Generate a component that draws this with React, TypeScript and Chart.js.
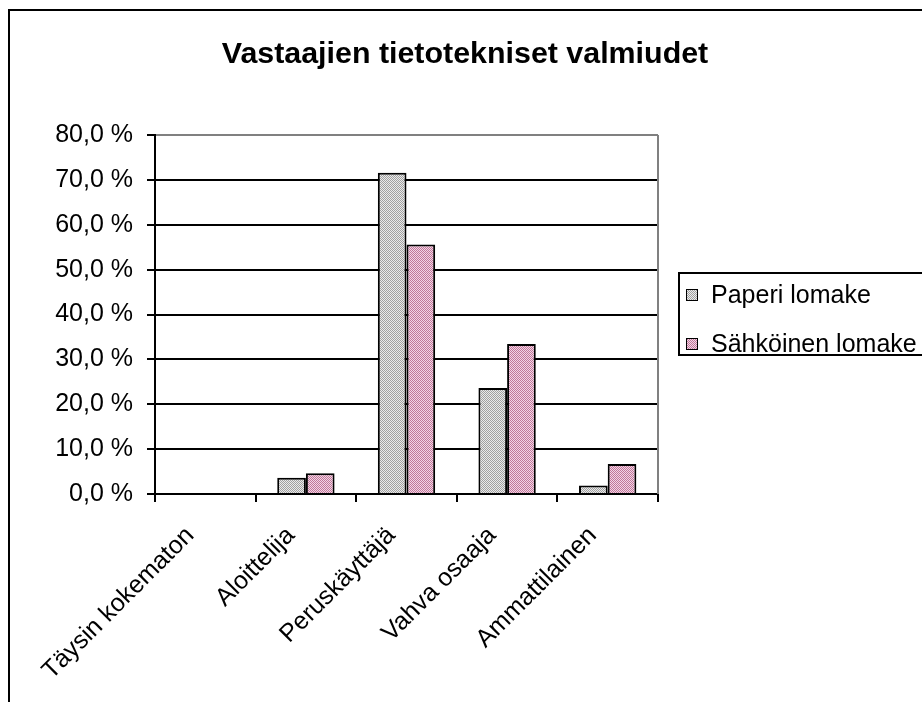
import React, { useEffect, useRef } from "react";
import { Chart, registerables } from "chart.js";

Chart.register(...registerables);

const chartTitle = "Vastaajien tietotekniset valmiudet";
const categories = ["Täysin kokematon", "Aloittelija", "Peruskäyttäjä", "Vahva osaaja", "Ammattilainen"];
const seriesNames = ["Paperi lomake", "Sähköinen lomake"];
const paperiValues = [0, 3.6, 71.6, 23.6, 1.9];
const sahkoinenValues = [0, 4.6, 55.6, 33.4, 6.7];
const yMin = 0;
const yMax = 80;
const yStep = 10;

const FONT = '"Liberation Sans", Arial, sans-serif';

function makePattern(c1: string, c2: string): CanvasPattern | string {
  const pc = document.createElement("canvas");
  pc.width = 2;
  pc.height = 2;
  const g = pc.getContext("2d");
  if (!g) return c1;
  g.fillStyle = c1;
  g.fillRect(0, 0, 2, 2);
  g.fillStyle = c2;
  g.fillRect(0, 0, 1, 1);
  g.fillRect(1, 1, 1, 1);
  const ctx = document.createElement("canvas").getContext("2d");
  const p = ctx ? ctx.createPattern(pc, "repeat") : null;
  return p || c1;
}

export default function App() {
  const ref = useRef<HTMLCanvasElement | null>(null);

  useEffect(() => {
    if (!ref.current) return;
    const grayPat = makePattern("#eaeaea", "#a0a0a0");
    const pinkPat = makePattern("#f2d4e6", "#c07898");
    const fills = [grayPat, pinkPat];

    const framePlugin = {
      id: "frame",
      beforeDraw(chart: any) {
        const c = chart.ctx;
        c.save();
        c.fillStyle = "#ffffff";
        c.fillRect(0, 0, chart.width, chart.height);
        c.restore();
      },
      afterDraw(chart: any) {
        const c = chart.ctx;
        const a = chart.chartArea;
        c.save();
        // outer chart border
        c.strokeStyle = "#000";
        c.lineWidth = 2;
        c.beginPath();
        c.moveTo(9, 710);
        c.lineTo(9, 10);
        c.lineTo(930, 10);
        c.stroke();
        // plot area right border
        c.strokeStyle = "#808080";
        c.lineWidth = 2;
        c.beginPath();
        c.moveTo(a.right, a.top);
        c.lineTo(a.right, a.bottom);
        c.stroke();
        // title
        c.fillStyle = "#000";
        c.font = `bold 30.4px ${FONT}`;
        c.textAlign = "center";
        c.textBaseline = "alphabetic";
        c.fillText(chartTitle, 465, 63);
        // legend
        c.strokeStyle = "#000";
        c.lineWidth = 2;
        c.strokeRect(679, 273, 300, 82);
        c.font = `25px ${FONT}`;
        c.textAlign = "left";
        c.textBaseline = "middle";
        const ys = [295, 344];
        chart.data.datasets.forEach((ds: any, i: number) => {
          c.fillStyle = fills[i];
          c.fillRect(686, ys[i] - 6, 12, 12);
          c.lineWidth = 1;
          c.strokeStyle = "#000";
          c.strokeRect(686.5, ys[i] - 5.5, 11, 11);
          c.fillStyle = "#000";
          c.fillText(ds.label, 711, ys[i] + 1);
        });
        c.restore();
      },
    };

    const chart = new Chart(ref.current, {
      type: "bar",
      data: {
        labels: categories,
        datasets: [
          {
            label: seriesNames[0],
            data: paperiValues,
            backgroundColor: grayPat as any,
            borderColor: "#000",
            borderWidth: 2,
            categoryPercentage: 0.57,
            barPercentage: 1,
          },
          {
            label: seriesNames[1],
            data: sahkoinenValues,
            backgroundColor: pinkPat as any,
            borderColor: "#000",
            borderWidth: 2,
            categoryPercentage: 0.57,
            barPercentage: 1,
          },
        ],
      },
      options: {
        animation: false,
        responsive: false,
        layout: { padding: { left: 0, top: 135, right: 264, bottom: 0 } },
        plugins: {
          legend: { display: false },
          title: { display: false },
          tooltip: { enabled: false },
        },
        scales: {
          x: {
            afterFit(scale: any) {
              scale.height = 208;
              scale.paddingLeft = 0;
              scale.paddingRight = 0;
            },
            grid: {
              drawOnChartArea: false,
              drawTicks: true,
              tickLength: 8,
              color: "#000",
              lineWidth: 2,
              offset: true,
            },
            border: { color: "#000", width: 2 },
            ticks: {
              color: "#000",
              font: { family: FONT, size: 25 },
              maxRotation: 45,
              minRotation: 45,
              autoSkip: false,
              padding: 19,
              labelOffset: -15,
            },
          },
          y: {
            min: yMin,
            max: yMax,
            afterFit(scale: any) {
              scale.width = 155;
              scale.paddingTop = 0;
              scale.paddingBottom = 0;
            },
            grid: {
              color: (ctx: any) => (ctx.tick && ctx.tick.value === yMax ? "#808080" : "#000"),
              tickColor: "#000",
              lineWidth: 2,
              tickLength: 8,
              drawTicks: true,
            },
            border: { color: "#000", width: 2 },
            ticks: {
              stepSize: yStep,
              color: "#000",
              font: { family: FONT, size: 25 },
              padding: 14,
              callback: (v: any) => Number(v).toFixed(1).replace(".", ",") + " %",
            },
          },
        },
      },
      plugins: [framePlugin],
    });
    return () => chart.destroy();
  }, []);

  return (
    <div style={{ position: "absolute", left: 0, top: 0, width: 922, height: 702, overflow: "hidden", background: "#fff" }}>
      <canvas ref={ref} width={922} height={702} style={{ display: "block", width: 922, height: 702 }} />
    </div>
  );
}
